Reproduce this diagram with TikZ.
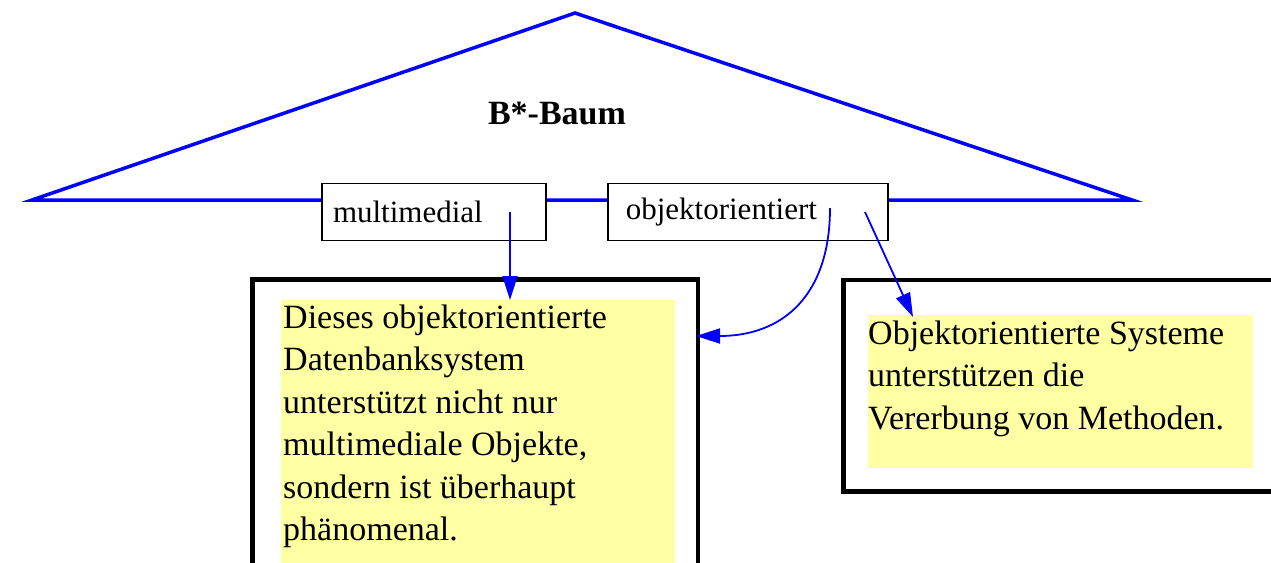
\documentclass[tikz,border=0pt]{standalone}
\usepackage{fontspec}
\setmainfont{Liberation Serif}
\usepackage{xcolor}
\usepackage{tikz}
\usetikzlibrary{positioning, arrows.meta}
\definecolor{treeblue}{rgb}{0, 0, 1}
\definecolor{hilite}{rgb}{1, 1, 0.64}

\begin{document}
\begin{tikzpicture}[x=1pt, y=-1pt,
    tree/.style={draw=treeblue, line width=3.5pt, line join=miter},
    treelabel/.style={font=\bfseries\fontsize{34}{40}\selectfont},
    keybox/.style={rectangle, draw=black, line width=1.8pt, fill=white, minimum height=57pt, inner ysep=0pt, align=left, font=\fontsize{31}{36}\selectfont},
    notebox/.style={rectangle, draw=black, line width=4.5pt, fill=white, anchor=north west},
    fillarea/.style={rectangle, fill=hilite, inner sep=0pt, anchor=north west},
    notetext/.style={inner sep=0pt, anchor=north west, align=left, font=\fontsize{34}{42.5}\selectfont},
    link/.style={draw=treeblue, line width=1.8pt, -{Triangle[length=24pt, width=15pt]}}]
		\path[use as bounding box, clip] (0,0) rectangle (1271,562);
		% B*-Baum
		\draw[tree] (32,200) -- (575,13) -- (1132,200) -- cycle;
		\node[treelabel] (title) at (557,113) {B*-Baum};
		\node[keybox, text width=202pt, inner xsep=11pt] (multimedial) at (434,212) {multimedial};
		\node[keybox, text width=244pt, inner xsep=18pt, right=60pt of multimedial] (objekt) {objektorientiert};
		% Datensaetze
		\node[notebox, minimum width=445.5pt, minimum height=400pt] (leftbox) at (250,277) {};
		\node[notebox, minimum width=460pt, minimum height=211.5pt] (rightbox) at (841,277.5) {};
		\node[fillarea, minimum width=394pt, minimum height=300pt] (leftarea) at (281,300) {};
		\node[fillarea, minimum width=385pt, minimum height=153pt] (rightarea) at (868,315) {};
		\node[notetext] (lefttext) at ([shift={(2,4.5)}]leftarea.north west) {Dieses objektorientierte\\Datenbanksystem\\unterstützt nicht nur\\multimediale Objekte,\\sondern ist überhaupt\\phänomenal.};
		\node[notetext] (righttext) at ([shift={(0,5.5)}]rightarea.north west) {Objektorientierte Systeme\\unterstützen die\\Vererbung von Methoden.};
		% Verweise
		\coordinate (mmfrom) at (510,212);
		\coordinate (oofrom) at (830,208);
		\coordinate (oofrom2) at (865,212);
		\draw[link] (mmfrom) -- (mmfrom |- leftarea.north);
		\draw[link] (oofrom) to[out=-90, in=0, looseness=1.2] ([shift={(-4,59)}]leftbox.north east);
		\draw[link] (oofrom2) -- ([shift={(45,2)}]rightarea.north west);
		\end{tikzpicture}
\end{document}
